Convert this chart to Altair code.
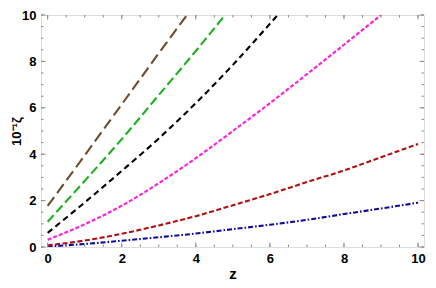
import altair as alt
import pandas as pd

# ---- data ----
z_blue = [0, 1, 2, 3, 4, 5, 6, 7, 8, 9, 10]
v_blue = [0.02, 0.13, 0.27, 0.42, 0.58, 0.77, 0.96, 1.17, 1.42, 1.66, 1.91]

z_red = [0, 1, 2, 3, 4, 5, 6, 7, 8, 9, 10]
v_red = [0.07, 0.28, 0.57, 0.93, 1.33, 1.80, 2.28, 2.80, 3.30, 3.87, 4.44]

z_magenta = [0, 1, 2, 3, 4, 5, 6, 7, 8, 9]
v_magenta = [0.31, 0.98, 1.78, 2.75, 3.83, 5.00, 6.20, 7.45, 8.72, 10.0]

z_black = [0, 1, 2, 3, 4, 5, 6, 6.21]
v_black = [0.61, 1.92, 3.28, 4.68, 6.20, 7.85, 9.62, 10.0]

z_green = [0, 1, 2, 3, 4, 4.79]
v_green = [1.09, 2.85, 4.65, 6.55, 8.45, 10.0]

z_brown = [0, 1, 2, 3, 3.76]
v_brown = [1.77, 3.95, 6.15, 8.35, 10.0]

x_ticks = [0, 2, 4, 6, 8, 10]
y_ticks = [0, 2, 4, 6, 8, 10]
minor_ticks = [i * 0.5 for i in range(21)]

series_names = ["blue", "red", "magenta", "black", "green", "brown"]
series_data = {
    "blue": (z_blue, v_blue),
    "red": (z_red, v_red),
    "magenta": (z_magenta, v_magenta),
    "black": (z_black, v_black),
    "green": (z_green, v_green),
    "brown": (z_brown, v_brown),
}

# ---- styles ----
styles = {
    "blue": ("#0a0aa8", [5, 2, 1.6, 2]),
    "red": ("#b01010", [5, 2.5]),
    "magenta": ("#ff1fdc", [4, 2]),
    "black": ("#000000", [6, 4]),
    "green": ("#1cb01c", [9, 4]),
    "brown": ("#6e4c2c", [11, 5]),
}

W, H = 383, 232
FONT = "Liberation Sans"
FRAME = "#8c8c8c"

rows = []
for name in series_names:
    zs, vs = series_data[name]
    for z, v in zip(zs, vs):
        rows.append({"series": name, "z": z, "v": v})
df = pd.DataFrame(rows)

xscale = alt.Scale(domain=[-0.18, 10.16], nice=False, zero=False)
yscale = alt.Scale(domain=[0, 10], nice=False, zero=False)

xaxis = alt.Axis(values=x_ticks, ticks=False, domain=False, grid=False,
                 labelFont=FONT, labelFontWeight="bold", labelFontSize=13,
                 labelColor="#000", labelPadding=5, title="z",
                 titleFont=FONT, titleFontWeight="bold", titleFontSize=15,
                 titleColor="#000", titleY=31, titleBaseline="alphabetic")
yaxis = alt.Axis(values=y_ticks, ticks=False, domain=False, grid=False,
                 labelFont=FONT, labelFontWeight="bold", labelFontSize=13,
                 labelColor="#000", labelPadding=5, title="10⁻¹ζ",
                 titleFont=FONT, titleFontWeight="bold", titleFontSize=13,
                 titleColor="#000", titleX=-25, titleBaseline="middle")

base = alt.Chart(df)

lines = []
for name in series_names:
    color, dash = styles[name]
    lines.append(
        base.transform_filter(alt.datum.series == name)
        .mark_line(color=color, strokeDash=dash, strokeWidth=2.1,
                   interpolate="monotone", clip=True)
        .encode(x=alt.X("z:Q", scale=xscale, axis=xaxis),
                y=alt.Y("v:Q", scale=yscale, axis=yaxis),
                order="z:Q")
    )

major_df = pd.DataFrame({"t": x_ticks})
minor_df = pd.DataFrame({"t": minor_ticks})


def tick_layers(data, length):
    c = alt.Chart(data).mark_rule(color=FRAME, strokeWidth=1)
    tx = alt.X("t:Q", scale=xscale, axis=xaxis)
    ty = alt.Y("t:Q", scale=yscale, axis=yaxis)
    return [
        c.encode(x=tx, y=alt.value(H), y2=alt.value(H - length)),
        c.encode(x=tx, y=alt.value(0), y2=alt.value(length)),
        c.encode(y=ty, x=alt.value(0), x2=alt.value(length)),
        c.encode(y=ty, x=alt.value(W), x2=alt.value(W - length)),
    ]


ticks = tick_layers(minor_df, 2.5) + tick_layers(major_df, 4.5)

chart = alt.layer(*lines, *ticks).properties(
    width=W, height=H,
    autosize=alt.AutoSizeParams(type="none"),
    padding={"left": 33, "top": 7, "right": 4, "bottom": 33},
).configure_view(stroke=FRAME, strokeWidth=1).configure(background="white")

chart.save("out.html", embed_options={"renderer": "svg", "actions": False})
